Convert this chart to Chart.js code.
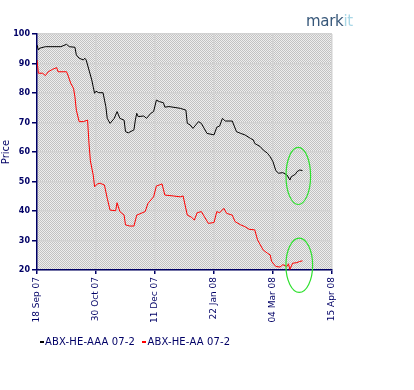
<!DOCTYPE html>
<html>
<head>
<meta charset="utf-8">
<script src="https://cdn.jsdelivr.net/npm/chart.js@4"></script>
<style>
  body { margin: 0; background: #fff; }
  #wrap { position: relative; width: 414px; height: 390px; }
  #logo { position: absolute; left: 306px; top: 12px; font: 15px "DejaVu Sans", sans-serif; letter-spacing: -0.3px; }
  #logo .a { color: #38587a; }
  #logo .b { color: #a9d7e6; }
  #legend { position: absolute; left: 40px; top: 336px; font: 10px "DejaVu Sans", sans-serif; color: #000066; white-space: nowrap; letter-spacing: 0.15px; }
  #legend span.mk { display: inline-block; width: 4px; height: 1.5px; vertical-align: middle; margin-right: 1px; }
  #legend span.item { margin-right: 4px; }
</style>
</head>
<body>
<div id="wrap">
  <canvas id="chart"></canvas>
  <div id="logo"><span class="a">mark</span><span class="b">it</span></div>
  <div id="legend"></div>
</div>
<script>
// days counted from 18 Sep 07
const xTickLabels = ["18 Sep 07", "30 Oct 07", "11 Dec 07", "22 Jan 08", "04 Mar 08", "15 Apr 08"];
const seriesNames = ["ABX-HE-AAA 07-2", "ABX-HE-AA 07-2"];

const aaaDays = [0, 1, 2, 6, 17, 21, 23, 27, 28, 30, 33, 34, 35, 37, 39, 40, 41, 42, 44, 47, 49, 50, 52, 55, 57, 59, 62, 63, 65, 69, 70, 71, 72, 76, 78, 81, 83, 85, 87, 90, 91, 94, 102, 106, 107, 109, 111, 115, 117, 121, 126, 128, 130, 132, 134, 139, 142, 145, 148, 152, 154, 155, 159, 161, 164, 166, 168, 170, 172, 175, 178, 180, 181, 184, 185, 187, 189];
const aaaPrices = [96.3, 94.6, 95.2, 95.7, 95.7, 96.5, 95.7, 95.5, 92.9, 91.8, 91.2, 91.8, 91.2, 87.8, 84.4, 82.1, 79.9, 80.6, 80.1, 80.1, 75.4, 71.4, 69.7, 71.4, 73.7, 71.4, 70.8, 66.9, 66.5, 67.5, 70.8, 73.1, 72.0, 72.2, 71.4, 73.1, 73.7, 77.6, 77.1, 76.7, 75.2, 75.4, 74.8, 74.2, 69.7, 69.2, 68.0, 70.3, 69.7, 66.3, 65.8, 68.4, 68.8, 71.4, 70.5, 70.5, 66.9, 66.3, 65.8, 64.6, 64.1, 62.9, 61.8, 60.7, 59.6, 58.4, 56.7, 53.7, 52.8, 53.0, 52.2, 50.5, 51.6, 52.5, 53.3, 53.9, 53.7];

const aaDays = [0, 1, 4, 6, 8, 11, 14, 15, 21, 22, 24, 26, 27, 28, 30, 33, 36, 37, 38, 40, 41, 43, 45, 48, 50, 52, 56, 57, 59, 62, 63, 66, 69, 71, 74, 77, 79, 83, 85, 87, 89, 91, 97, 102, 104, 107, 110, 112, 114, 117, 122, 126, 128, 130, 133, 135, 139, 141, 145, 148, 151, 155, 157, 159, 161, 164, 166, 167, 170, 173, 175, 178, 179, 180, 182, 185, 187, 189];
const aaPrices = [91.2, 86.7, 86.7, 85.9, 87.2, 88.0, 88.6, 87.2, 87.2, 86.1, 83.3, 81.6, 78.7, 74.2, 70.3, 70.3, 70.8, 63.0, 57.0, 52.2, 48.2, 49.2, 49.4, 48.8, 44.3, 40.3, 40.1, 42.8, 39.8, 38.6, 35.3, 34.9, 34.9, 38.6, 39.2, 39.8, 42.6, 44.8, 48.5, 48.8, 49.2, 45.4, 45.1, 44.8, 45.1, 38.6, 37.9, 36.9, 39.4, 39.8, 35.8, 36.1, 39.8, 39.4, 40.9, 39.2, 38.6, 36.4, 35.3, 34.7, 33.8, 33.6, 30.2, 28.5, 26.8, 25.7, 25.1, 22.9, 21.2, 21.0, 21.8, 21.2, 22.1, 20.2, 22.3, 22.5, 22.9, 23.1];

// circled areas, in data units
const ringDays = [186, 186.7];
const ringPrices = [51.9, 21.6];
const ringDayRadius = [8.75, 9.5];
const ringPriceRadius = [9.7, 9.2];

const navy = "#000066";

function toPoints(days, prices) {
  return days.map((d, i) => ({ x: d, y: prices[i] }));
}

function makePattern() {
  const c = document.createElement("canvas");
  c.width = 2; c.height = 2;
  const g = c.getContext("2d");
  g.fillStyle = "#eeeeee";
  g.fillRect(0, 0, 2, 2);
  g.fillStyle = "#c2c2c2";
  g.fillRect(0, 0, 1, 1);
  g.fillRect(1, 1, 1, 1);
  return c;
}

const bgPlugin = {
  id: "hatch",
  beforeDraw(chart) {
    const { ctx, chartArea: a } = chart;
    ctx.save();
    ctx.fillStyle = ctx.createPattern(makePattern(), "repeat");
    ctx.fillRect(a.left, a.top, a.right - a.left, a.bottom - a.top);
    ctx.restore();
  },
};

const ringPlugin = {
  id: "rings",
  afterDatasetsDraw(chart) {
    const { ctx, scales: { x, y } } = chart;
    ctx.save();
    ctx.strokeStyle = "#2ee02e";
    ctx.lineWidth = 1.2;
    ringDays.forEach((d, i) => {
      const cx = x.getPixelForValue(d);
      const cy = y.getPixelForValue(ringPrices[i]);
      const rx = Math.abs(x.getPixelForValue(d + ringDayRadius[i]) - cx);
      const ry = Math.abs(y.getPixelForValue(ringPrices[i] + ringPriceRadius[i]) - cy);
      ctx.beginPath();
      ctx.ellipse(cx, cy, rx, ry, 0, 0, Math.PI * 2);
      ctx.stroke();
    });
    ctx.restore();
  },
};

const chart = new Chart(document.getElementById("chart"), {
  type: "line",
  data: {
    datasets: [
      { label: seriesNames[0], data: toPoints(aaaDays, aaaPrices), borderColor: "#000000" },
      { label: seriesNames[1], data: toPoints(aaDays, aaPrices), borderColor: "#ff0000" },
    ],
  },
  options: {
    responsive: true,
    maintainAspectRatio: false,
    animation: false,
    layout: { padding: { left: 0, right: 82, top: 34, bottom: 0 } },
    elements: {
      line: { borderWidth: 1, tension: 0 },
      point: { radius: 0 },
    },
    plugins: {
      legend: { display: false },
      tooltip: { enabled: false },
    },
    scales: {
      x: {
        type: "linear",
        min: 0,
        max: 210,
        afterFit(scale) { scale.height = 120; },
        border: { color: navy, width: 1.5 },
        grid: { color: "#d2d2d2", lineWidth: 1.5, tickColor: navy, tickLength: 4 },
        ticks: {
          stepSize: 42,
          autoSkip: false,
          minRotation: 90,
          maxRotation: 90,
          padding: 3,
          color: navy,
          font: { family: "DejaVu Sans", size: 9 },
          callback: (v, i) => xTickLabels[i],
        },
      },
      y: {
        min: 20,
        max: 100,
        afterFit(scale) { scale.width = 37; },
        border: { color: navy, width: 1.5 },
        grid: { color: "#d2d2d2", lineWidth: 1.5, tickColor: navy, tickLength: 5 },
        title: {
          display: true,
          text: "Price",
          color: navy,
          padding: 0,
          font: { family: "DejaVu Sans", size: 10 },
        },
        ticks: {
          stepSize: 10,
          padding: 2,
          color: navy,
          font: { family: "DejaVu Sans", size: 8, weight: "bold" },
        },
      },
    },
  },
  plugins: [bgPlugin, ringPlugin],
});

const legend = document.getElementById("legend");
chart.data.datasets.forEach((ds) => {
  const item = document.createElement("span");
  item.className = "item";
  const mk = document.createElement("span");
  mk.className = "mk";
  mk.style.background = ds.borderColor;
  item.appendChild(mk);
  item.appendChild(document.createTextNode(ds.label));
  legend.appendChild(item);
  legend.appendChild(document.createTextNode(" "));
});
</script>
</body>
</html>
